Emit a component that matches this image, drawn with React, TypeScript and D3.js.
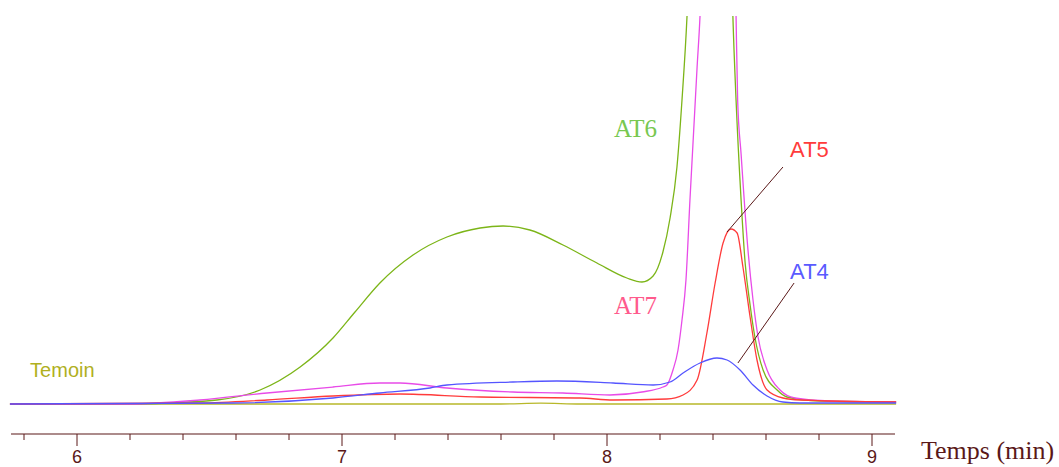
import React from "react";
import * as d3 from "d3";

// time (min), signal (arbitrary units)
const temoin: [number, number][] = [
  [5.747, 0], [7.6, 0], [7.75, 0.8], [7.9, 0], [9.091, 0],
];
const at6: [number, number][] = [
  [5.747, 0], [6.2, 0], [6.34, 1], [6.528, 4], [6.691, 14], [6.842, 37], [6.966, 66],
  [7.049, 92], [7.143, 121], [7.268, 149], [7.396, 167], [7.521, 176], [7.608, 178],
  [7.709, 174], [7.834, 159], [7.962, 141], [8.075, 126], [8.132, 122], [8.174, 128],
  [8.211, 152], [8.238, 186], [8.264, 237], [8.283, 304], [8.302, 388], [8.34, 700],
  [8.4, 1100], [8.45, 700], [8.475, 388], [8.487, 304], [8.506, 204], [8.521, 142],
  [8.54, 99], [8.558, 67], [8.589, 34], [8.642, 14], [8.679, 7], [8.804, 3], [9.091, 2],
];
const at7: [number, number][] = [
  [5.747, 0], [6.2, 0], [6.464, 4], [6.717, 11], [6.966, 17], [7.143, 21], [7.219, 21],
  [7.396, 16], [7.645, 12], [7.834, 11], [8.011, 9], [8.132, 12], [8.211, 17], [8.226, 19],
  [8.249, 34], [8.268, 54], [8.283, 84], [8.298, 124], [8.313, 204], [8.34, 337],
  [8.351, 388], [8.39, 800], [8.42, 1000], [8.46, 800], [8.487, 388], [8.493, 304],
  [8.506, 250], [8.532, 154], [8.551, 104], [8.57, 67], [8.604, 34], [8.653, 14],
  [8.709, 6], [8.842, 3], [9.091, 2],
];
const at5: [number, number][] = [
  [5.747, 0], [6.464, 1], [6.717, 4], [6.966, 8], [7.219, 10], [7.521, 7], [7.898, 6],
  [8.023, 4], [8.226, 5], [8.287, 9], [8.34, 24], [8.377, 71], [8.408, 121], [8.438, 161],
  [8.468, 175], [8.491, 171], [8.513, 137], [8.54, 87], [8.566, 44], [8.604, 14],
  [8.664, 6], [8.728, 4], [9.091, 2],
];
const at4: [number, number][] = [
  [5.747, 0], [6.585, 1], [6.966, 6], [7.143, 11], [7.332, 16], [7.396, 19], [7.645, 22],
  [7.811, 23], [8.023, 21], [8.174, 19], [8.238, 22], [8.287, 31], [8.351, 41],
  [8.415, 46], [8.453, 44], [8.502, 34], [8.551, 19], [8.604, 8], [8.664, 2],
  [8.728, 1], [9.091, 1],
];

const majorTicks = [6, 7, 8, 9];
const minorTicks = [5.8, 6.2, 6.4, 6.6, 6.8, 7.2, 7.4, 7.6, 7.8, 8.2, 8.4, 8.6, 8.8];
const axisRange: [number, number] = [5.751, 9.087];
const axisTitle = "Temps (min)";

const series = [
  { name: "Temoin", data: temoin, color: "#b8b82a" },
  { name: "AT6", data: at6, color: "#7cb518" },
  { name: "AT7", data: at7, color: "#e84be8" },
  { name: "AT5", data: at5, color: "#ff3b3b" },
  { name: "AT4", data: at4, color: "#5555ff" },
];

// labels: [time, value] anchor (left/baseline)
const labels = [
  { text: "Temoin", t: 5.823, v: 27, color: "#b0b01e", font: "'Liberation Sans', Arial, sans-serif", size: 20 },
  { text: "AT6", t: 8.026, v: 267, color: "#78c850", font: "'Liberation Serif', 'Times New Roman', serif", size: 25 },
  { text: "AT7", t: 8.026, v: 90, color: "#ff5a8c", font: "'Liberation Serif', 'Times New Roman', serif", size: 25 },
  { text: "AT5", t: 8.691, v: 247, color: "#ff3b3b", font: "'Liberation Sans', Arial, sans-serif", size: 22 },
  { text: "AT4", t: 8.691, v: 125, color: "#5a5aff", font: "'Liberation Sans', Arial, sans-serif", size: 22 },
];
const leaders: [number, number, number, number][] = [
  [8.453, 172, 8.664, 237],
  [8.494, 41, 8.706, 121],
];

const W = 1059;
const H = 467;

export default function App() {
  const x = d3.scaleLinear().domain([6, 9]).range([77, 872]);
  const y = d3.scaleLinear().domain([0, 388]).range([404, 16]);
  const line = d3
    .line<[number, number]>()
    .x((d) => x(d[0]))
    .y((d) => y(d[1]))
    .curve(d3.curveMonotoneX);
  const axisY = 434;
  const axisColor = "#5a1818";

  return (
    <svg
      width={W}
      height={H}
      style={{ position: "absolute", left: 0, top: 0, background: "#fff" }}
    >
      <defs>
        <clipPath id="plotclip">
          <rect x={0} y={16} width={W} height={420} />
        </clipPath>
      </defs>
      <g clipPath="url(#plotclip)">
        {series.map((s) => (
          <path
            key={s.name}
            d={line(s.data) || ""}
            fill="none"
            stroke={s.color}
            strokeWidth={1.3}
          />
        ))}
      </g>
      {leaders.map((l, i) => (
        <line
          key={i}
          x1={x(l[0])}
          y1={y(l[1])}
          x2={x(l[2])}
          y2={y(l[3])}
          stroke={axisColor}
          strokeWidth={1}
        />
      ))}
      {labels.map((l) => (
        <text
          key={l.text}
          x={x(l.t)}
          y={y(l.v)}
          fill={l.color}
          fontFamily={l.font}
          fontSize={l.size}
        >
          {l.text}
        </text>
      ))}
      <g>
        <line
          x1={x(axisRange[0])}
          x2={x(axisRange[1])}
          y1={axisY}
          y2={axisY}
          stroke={axisColor}
          strokeWidth={1.2}
        />
        {minorTicks.map((t) => (
          <line key={t} x1={x(t)} x2={x(t)} y1={axisY} y2={axisY + 6} stroke={axisColor} strokeWidth={1} />
        ))}
        {majorTicks.map((t) => (
          <g key={t}>
            <line x1={x(t)} x2={x(t)} y1={axisY} y2={axisY + 12} stroke={axisColor} strokeWidth={1} />
            <text
              x={x(t)}
              y={463}
              textAnchor="middle"
              fill={axisColor}
              fontFamily="'Liberation Sans', Arial, sans-serif"
              fontSize={18}
            >
              {t}
            </text>
          </g>
        ))}
        <text
          x={921}
          y={459}
          fill={axisColor}
          fontFamily="'Liberation Serif', 'Times New Roman', serif"
          fontSize={26}
        >
          {axisTitle}
        </text>
      </g>
    </svg>
  );
}
